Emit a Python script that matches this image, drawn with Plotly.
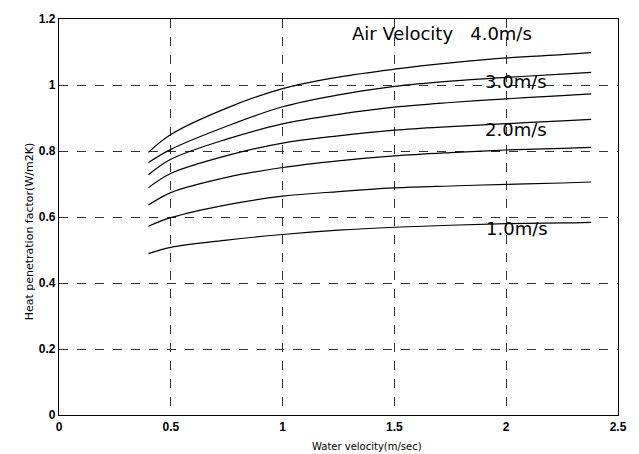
import plotly.graph_objects as go

# Water velocity (m/s) sample points
water_velocity = [0.4, 0.5, 0.75, 1.0, 1.25, 1.5, 1.75, 2.0, 2.25, 2.38]

# Heat penetration factor curves (top to bottom)
curve_a = [0.796, 0.850, 0.930, 0.989, 1.024, 1.048, 1.067, 1.082, 1.092, 1.098]
curve_b = [0.765, 0.805, 0.875, 0.934, 0.970, 0.996, 1.012, 1.023, 1.033, 1.038]
curve_c = [0.728, 0.775, 0.836, 0.882, 0.911, 0.933, 0.947, 0.958, 0.968, 0.973]
curve_d = [0.689, 0.732, 0.786, 0.824, 0.846, 0.863, 0.874, 0.883, 0.891, 0.896]
curve_e = [0.636, 0.674, 0.720, 0.750, 0.770, 0.785, 0.795, 0.803, 0.808, 0.811]
curve_f = [0.572, 0.598, 0.637, 0.663, 0.677, 0.688, 0.694, 0.699, 0.703, 0.706]
curve_g = [0.489, 0.508, 0.530, 0.547, 0.560, 0.569, 0.575, 0.580, 0.582, 0.584]

curves = [curve_a, curve_b, curve_c, curve_d, curve_e, curve_f, curve_g]

# Labels
label_texts = ["Air Velocity&nbsp;&nbsp;&nbsp;4.0m/s", "3.0m/s", "2.0m/s", "1.0m/s"]
label_x = [1.713, 2.044, 2.044, 2.047]
label_y = [1.156, 1.010, 0.865, 0.566]

x_ticks = [0, 0.5, 1, 1.5, 2, 2.5]
x_tick_text = ["0", "0.5", "1", "1.5", "2", "2.5"]
y_ticks = [0, 0.2, 0.4, 0.6, 0.8, 1.0, 1.2]
y_tick_text = ["0", "0.2", "0.4", "0.6", "0.8", "1", "1.2"]

fig = go.Figure()
for c in curves:
    fig.add_trace(go.Scatter(x=water_velocity, y=c, mode="lines",
                             line=dict(color="black", width=1.2, shape="spline"),
                             showlegend=False, hoverinfo="skip"))

for t, x, y in zip(label_texts, label_x, label_y):
    fig.add_annotation(x=x, y=y, xref="x", yref="y", text=t, showarrow=False,
                       font=dict(family="DejaVu Sans", size=18, color="black"))

fig.add_annotation(x=0.551, y=-0.08, xref="paper", yref="paper",
                   text="Water velocity(m/sec)", showarrow=False, yanchor="middle",
                   font=dict(family="DejaVu Sans", size=10, color="black"))
fig.add_annotation(x=-0.068, y=0.465, xref="paper", yref="paper",
                   text="Heat penetration factor(W/m2K)", showarrow=False, textangle=-90,
                   font=dict(family="DejaVu Sans", size=11, color="black"))

axis_common = dict(showline=True, linecolor="black", linewidth=1.3, mirror=True,
                   showgrid=True, gridcolor="#333333", griddash="dash", gridwidth=1,
                   zeroline=False, ticks="",
                   tickfont=dict(family="Liberation Sans, Arial", size=12, color="black", weight="bold"))

fig.update_xaxes(range=[0, 2.5], tickvals=x_ticks, ticktext=x_tick_text, **axis_common)
fig.update_yaxes(range=[0, 1.2], tickvals=y_ticks, ticktext=y_tick_text, **axis_common)

fig.update_layout(width=639, height=454, margin=dict(l=59, r=21, t=14, b=39),
                  plot_bgcolor="white", paper_bgcolor="white")

fig.write_html("out.html")
